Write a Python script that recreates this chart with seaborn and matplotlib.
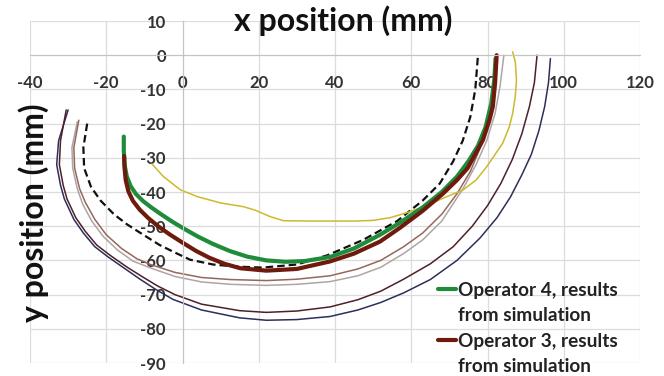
import numpy as np
import pandas as pd
import matplotlib
matplotlib.use('Agg')
import matplotlib.pyplot as plt
from matplotlib.lines import Line2D
import seaborn as sns

# curves (x, y in mm)
navy_x = [-30, -32.5, -33, -32, -31, -28.5, -26, -23, -19.5, -15, -11, -7, -2.5, 5, 15, 22, 30,
          38.7, 46, 52, 58, 65, 72, 78, 82.5, 86, 89, 91.5, 93.5, 95, 96, 96.5]
navy_y = [-16, -25, -32, -38, -42, -48, -52, -56, -59, -62.5, -65.6, -68.5, -71.4, -74.5, -76.8,
          -77.5, -77.3, -76.4, -74.5, -72.3, -69.5, -65.6, -60, -53.5, -47.5, -41.5, -35, -29,
          -22, -15, -8, -1]

maroon_x = [-30.5, -32, -32.3, -31.3, -30.3, -28, -25.5, -22.5, -19, -14.5, -10.5, -6.5, -2, 5, 15,
            22, 30, 38.7, 46, 52, 58, 65, 71, 76, 80, 83.5, 86.5, 89, 91, 92.3, 93]
maroon_y = [-16, -25, -32, -38, -42, -47.5, -51.5, -55.5, -58.5, -62, -64.8, -67.5, -70, -72.8,
            -74.7, -75.2, -74.8, -73.6, -71.5, -69, -65.5, -61, -56, -50, -44, -37.5, -30.5, -23,
            -15, -8, 0]

tan1_x = [-27.2, -28.5, -28.3, -27, -25.5, -23, -20, -16, -12, -8.4, -2, 5, 12.6, 22, 30, 38.7,
          46, 52, 58, 63, 68, 72, 75.5, 78.5, 80.5, 81.8, 82.3]
tan1_y = [-19, -27, -33, -39, -43, -48, -52.5, -56.5, -59.5, -61.2, -63.5, -65, -65.6, -65.9,
          -65.5, -64.5, -62.5, -60, -56, -52, -46.5, -40.5, -34, -26, -18, -9, 0]

tan2_x = [-27.6, -29, -28.8, -27.6, -26.2, -23.8, -20.8, -17, -13, -8.4, -2, 5, 12.6, 22, 30, 38.7,
          46, 52, 58, 63, 68, 73.6, 77, 79.8, 82, 83.3, 84.3]
tan2_y = [-19.5, -27, -33, -39, -43.5, -48.5, -53, -57, -60.2, -62.2, -64.7, -66.3, -67, -67.3,
          -67, -66.2, -64.5, -62, -58, -54, -48.5, -39, -32, -25, -17, -9, 0]

dash_x = [-25, -26, -25.8, -24, -21.5, -18, -14.5, -11, -6, -2, 2, 8, 14, 21, 30, 38, 47.4, 56.3,
          63, 67.5, 71, 73.5, 75.5, 76.8, 77.5]
dash_y = [-20, -27, -33, -38.5, -42.5, -46.5, -49.5, -52, -55.5, -57.7, -59.8, -61.2, -61.8,
          -62.1, -61.2, -58.5, -54, -48.5, -42.5, -37.5, -31, -25, -18, -10, 0]

op3_x = [-15.3, -15.2, -14.9, -14.2, -13, -11.2, -9, -6.4, -3.5, 0, 3.5, 7, 11, 15.2, 22, 30,
         38.7, 45, 51.8, 57, 63, 68.3, 72, 74.8, 77, 78.8, 80.5, 81.4, 82, 82.4]
op3_y = [-29.5, -33, -36.5, -39.8, -42.6, -45.2, -47.6, -50, -52.3, -54.8, -57.2, -59.2, -61,
         -62.3, -63, -62.5, -60.3, -58, -54.5, -50.5, -45.5, -40.5, -36.5, -33, -28.5, -24.8,
         -19, -15, -8, 0]

op4_x = [-15.4, -15.4, -15.2, -14.6, -13.6, -12.2, -10.4, -8.2, -5.5, -2.5, 0.5, 4, 8, 12.5, 17,
         22, 27, 32, 38.7, 45, 51.8, 57, 63, 68, 72, 75, 77.5, 79.5, 81, 81.8, 82.1]
op4_y = [-23.8, -28, -32, -35.5, -38.3, -40.6, -42.6, -44.5, -46.6, -48.8, -50.8, -53, -55.2,
         -57.3, -58.9, -60, -60.4, -60.2, -59, -56.5, -52.5, -49, -44.5, -40, -35.5, -31, -26.5,
         -21, -14, -7, -1]

yel_x = [-8, -5, -0.5, 4, 10, 16, 19, 23, 26.5, 35, 45, 50, 54.5, 59, 64, 69, 73.6, 77, 79.8, 82,
         84, 85.7, 86.6, 87.3, 87.6, 87.3, 86.6]
yel_y = [-31.8, -35.5, -39.4, -41.4, -43.2, -44.3, -45.3, -47.2, -48.4, -48.5, -48.5, -48.3,
         -47.5, -46, -44, -41.5, -39.4, -36.5, -32.6, -29, -25.7, -21, -17, -12, -7.3, -2, 1]

x_ticks = [-40, -20, 0, 20, 40, 60, 80, 100, 120]
y_ticks = [10, 0, -10, -20, -30, -40, -50, -60, -70, -80, -90]

label_op4 = 'Operator 4, results'
label_op3 = 'Operator 3, results'
label_sub = 'from simulation'

sns.set_style('white')
plt.rcParams['font.family'] = ['Lato', 'DejaVu Sans']
plt.rcParams['axes.unicode_minus'] = False

fig = plt.figure(figsize=(6.64, 3.76), dpi=100)
ax = fig.add_axes([30 / 664, 1 - 363 / 376, 610 / 664, 342 / 376])

curves = [
    (navy_x, navy_y, '#2c2f5a', 1.1, '-'),
    (maroon_x, maroon_y, '#4e2028', 1.1, '-'),
    (tan2_x, tan2_y, '#b0a4a4', 1.1, '-'),
    (tan1_x, tan1_y, '#94685a', 1.1, '-'),
    (dash_x, dash_y, '#111111', 1.6, (0, (3.4, 1.8))),
    (yel_x, yel_y, '#cdb92c', 1.1, '-'),
    (op4_x, op4_y, '#1e8c3a', 3.0, '-'),
    (op3_x, op3_y, '#6e1a0c', 3.0, '-'),
]
for cx, cy, col, lw, ls in curves:
    df = pd.DataFrame({'x': cx, 'y': cy})
    sns.lineplot(data=df, x='x', y='y', sort=False, estimator=None, color=col,
                 linewidth=lw, linestyle=ls, ax=ax)

ax.set_xlim(-40, 120)
ax.set_ylim(-90, 10)
ax.set_xticks(x_ticks)
ax.set_yticks(y_ticks)
ax.grid(True, color='#dcdcdc', linewidth=0.9)
ax.set_axisbelow(True)
for side in ['top', 'right']:
    ax.spines[side].set_visible(False)
ax.spines['left'].set_position(('data', 0))
ax.spines['bottom'].set_position(('data', 0))
ax.spines['left'].set_color('#c4c4c4')
ax.spines['bottom'].set_color('#c4c4c4')
ax.tick_params(length=0, labelsize=12, labelcolor='#333333')
ax.tick_params(axis='x', pad=14)
ax.tick_params(axis='y', pad=12)
for lab in ax.get_xticklabels() + ax.get_yticklabels():
    lab.set_fontweight('bold')
ax.set_xlabel('')
ax.set_ylabel('')

fig.text(343 / 664, 1 - 21 / 376, 'x position (mm)', ha='center', va='center',
         fontsize=23, fontweight='bold', color='#111111')
fig.text(34 / 664, 1 - 213 / 376, 'y position (mm)', ha='center', va='center',
         rotation=90, fontsize=23, fontweight='bold', color='#111111')

blank = Line2D([], [], alpha=0)
handles = [Line2D([], [], color='#1e8c3a', lw=3), blank,
           Line2D([], [], color='#6e1a0c', lw=3), blank]
labels = [label_op4, label_sub, label_op3, label_sub]
leg = fig.legend(handles, labels, loc='upper left', bbox_to_anchor=(438 / 664, 1 - 282 / 376),
                 frameon=False, fontsize=13.7, handlelength=0.95, handletextpad=0.1,
                 labelspacing=0.44, borderpad=0, borderaxespad=0)
for t in leg.get_texts():
    t.set_fontweight('bold')
    t.set_color('#222222')

fig.savefig('out.png', dpi=100)
